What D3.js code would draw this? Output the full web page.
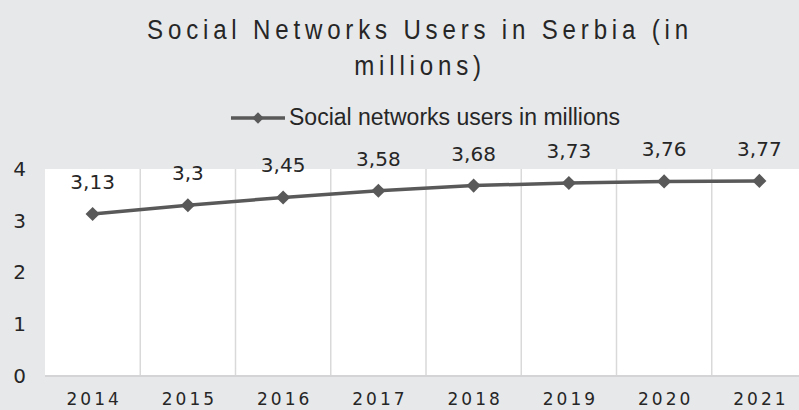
<!DOCTYPE html>
<html>
<head>
<meta charset="utf-8">
<script src="https://cdn.jsdelivr.net/npm/d3@7"></script>
<style>
  body { margin: 0; background: #e7e8ea; }
  svg { display: block; }
</style>
</head>
<body>
<svg id="chart" width="799" height="410"></svg>
<script>
var years  = ["2014", "2015", "2016", "2017", "2018", "2019", "2020", "2021"],
    users  = [3.13, 3.3, 3.45, 3.58, 3.68, 3.73, 3.76, 3.77],
    y_ticks = [0, 1, 2, 3, 4],
    series_name = "Social networks users in millions",
    title_lines = ["Social Networks Users in Serbia (in", "millions)"]

var svg = d3.select("#chart"),
    width = 799, height = 410,
    plot = {left: 45, right: 807, top: 169, bottom: 376}

var x_scale = d3.scaleBand()
                .domain(years)
                .range([plot.left, plot.right]),
    y_scale = d3.scaleLinear()
                .domain([0, 4])
                .range([plot.bottom, plot.top])

var fmt = d => String(d).replace(".", ",")
var num_font = "'DejaVu Sans', sans-serif"

svg.append("rect")
   .attr("width", width).attr("height", height)
   .style("fill", "#e7e8ea")

// plot area
svg.append("rect")
   .attr("x", plot.left).attr("y", plot.top)
   .attr("width", plot.right - plot.left).attr("height", plot.bottom - plot.top)
   .style("fill", "#ffffff")

// vertical gridlines between categories
svg.selectAll(".vgrid")
   .data(years.slice(1))
   .enter()
   .append("line")
   .attr("class", "vgrid")
   .attr("x1", d => x_scale(d)).attr("x2", d => x_scale(d))
   .attr("y1", plot.top).attr("y2", plot.bottom)
   .style("stroke", "#d9d9d9")
   .style("stroke-width", 1.5)

// bottom axis line
svg.append("line")
   .attr("x1", plot.left).attr("x2", plot.right)
   .attr("y1", plot.bottom).attr("y2", plot.bottom)
   .style("stroke", "#d4d4d6")
   .style("stroke-width", 2)

// y axis labels
var y_axis = d3.axisLeft(y_scale).tickValues(y_ticks).tickFormat(d3.format("d")).tickSize(0).tickPadding(0)
svg.append("g")
   .attr("transform", "translate(26,0)")
   .call(y_axis)
   .call(g => g.select(".domain").remove())
   .selectAll("text")
   .style("font-family", num_font)
   .style("font-size", "20px")
   .style("fill", "#262626")

// x axis labels
var x_axis = d3.axisBottom(x_scale).tickSize(0).tickPadding(0)
svg.append("g")
   .attr("transform", "translate(0," + 393 + ")")
   .call(x_axis)
   .call(g => g.select(".domain").remove())
   .selectAll("text")
   .attr("dx", "1.5px")
   .style("font-family", num_font)
   .style("font-size", "17px")
   .style("letter-spacing", "3px")
   .style("fill", "#262626")

// line
var cx = d => x_scale(d) + x_scale.bandwidth() / 2
var line = d3.line()
             .x((d, i) => cx(years[i]))
             .y(d => y_scale(d))

svg.append("path")
   .datum(users)
   .attr("d", line)
   .style("fill", "none")
   .style("stroke", "#595959")
   .style("stroke-width", 3.5)

var diamond = d3.symbol().type(d3.symbolSquare).size(100)
svg.selectAll(".marker")
   .data(users)
   .enter()
   .append("path")
   .attr("class", "marker")
   .attr("d", diamond)
   .attr("transform", (d, i) => "translate(" + cx(years[i]) + "," + y_scale(d) + ") rotate(45)")
   .style("fill", "#595959")

// data labels
svg.selectAll(".data-label")
   .data(users)
   .enter()
   .append("text")
   .attr("class", "data-label")
   .attr("x", (d, i) => cx(years[i]))
   .attr("y", d => y_scale(d) - 25)
   .attr("text-anchor", "middle")
   .text(fmt)
   .style("font-family", num_font)
   .style("font-size", "20px")
   .style("fill", "#262626")

// title, condensed and spaced out
svg.selectAll(".title")
   .data(title_lines)
   .enter()
   .append("text")
   .attr("class", "title")
   .attr("transform", (d, i) => "translate(420," + (39 + i * 36) + ") scale(0.86,1)")
   .attr("text-anchor", "middle")
   .text(d => d)
   .style("font-family", "'Liberation Sans', Arial, sans-serif")
   .style("font-size", "28px")
   .style("letter-spacing", "5.6px")
   .style("fill", "#262626")

// legend
svg.append("line")
   .attr("x1", 231).attr("x2", 285)
   .attr("y1", 118).attr("y2", 118)
   .style("stroke", "#595959")
   .style("stroke-width", 3.5)
svg.append("path")
   .attr("d", d3.symbol().type(d3.symbolSquare).size(64))
   .attr("transform", "translate(258,118) rotate(45)")
   .style("fill", "#595959")
svg.append("text")
   .attr("x", 289)
   .attr("y", 125)
   .text(series_name)
   .style("font-family", "'Liberation Sans', Arial, sans-serif")
   .style("font-size", "23px")
   .style("fill", "#262626")
</script>
</body>
</html>
